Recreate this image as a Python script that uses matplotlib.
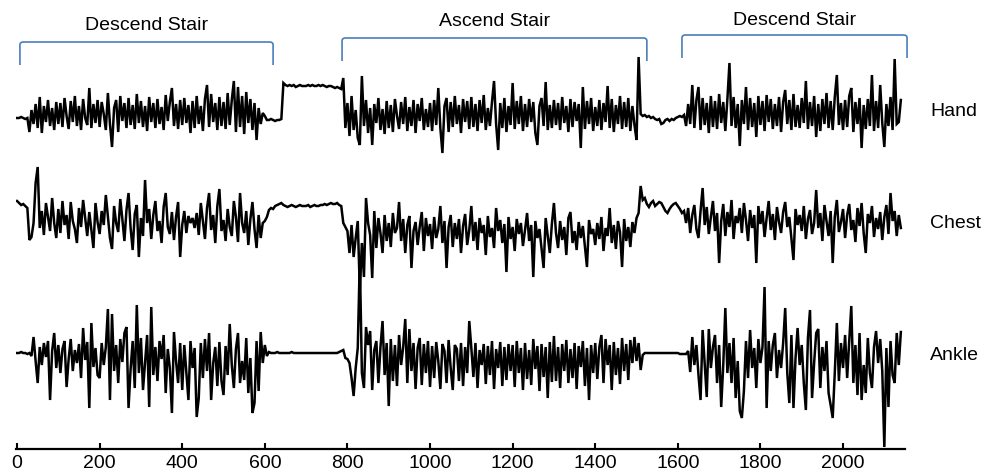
import numpy as np
import matplotlib
matplotlib.use('Agg')
from matplotlib import pyplot as plt
from matplotlib.path import Path
from matplotlib.patches import PathPatch

plt.rcParams['font.family'] = ['Liberation Sans', 'DejaVu Sans']

# one sample every 5 time units, values = deflection of each trace
step = 5

hand = [
    0, 0, 1, 0, -1, 0, -14, 8, -6, 14, -10, 21, -15, 12, -4, 18, -8, 10, -12, 16,
    -6, 15, -9, 20, 2, -11, 17, -4, 22, -8, 12, -12, 19, 0, -7, 30, -10, 14, -5, 18,
    -9, 16, 4, -12, 25, -6, -29, 10, 18, -14, 22, -3, 15, -10, 20, -7, 13, -11, 24, -5,
    17, -9, 12, -13, 21, -4, 15, -10, 19, -6, 11, -12, 23, -3, 16, 30, -8, 14, -11, 18,
    -7, 20, -5, 13, -15, 17, -10, 22, -6, 12, -13, 19, 33, -9, 24, -4, 15, -12, 21, -8,
    16, -11, 25, -7, 18, 37, -14, 31, -9, 22, -16, 26, -5, 19, -12, 15, -22, 10, -6, 5,
    2, -2, -2, -1, -2, -3, -2, -2, -1, 35, 33, 32, 33, 32, 33, 31, 32, 33, 32, 32,
    32, 33, 32, 33, 32, 32, 33, 32, 33, 32, 31, 32, 32, 31, 30, 31, 30, 29, 40, -10,
    15, -18, 22, -12, 8, -20, -27, 42, -8, 18, -15, 10, -27, 14, -5, 20, -12, 9, -16, 17,
    -10, 13, -14, 19, 2, -11, 16, -6, 21, -13, 11, -8, 18, -15, 14, -3, 20, -12, 9, -9,
    15, -13, 18, -7, 30, -10, -35, 12, 20, -14, 16, -9, 22, -6, 13, -15, 19, -4, 17, -11,
    21, -9, 14, -13, 18, -5, 23, -12, 10, -8, 16, 37, -6, -32, 15, -10, 20, -14, 12, -7,
    35, -11, 17, -6, 22, -13, 14, -9, 19, -4, 16, -15, -27, 12, 20, -8, 36, -12, 13, -10,
    18, -7, 15, -12, 21, -5, 12, -14, 19, -9, 16, -3, 14, -30, 31, -11, 17, -6, 20, -13,
    11, -8, 18, -12, 15, -4, 32, -10, 19, -14, 13, -6, 22, -11, 16, -9, 20, -13, 12, -7,
    -22, 61, 4, 2, 3, 1, 2, 0, 1, -1, -2, -1, -6, -5, -2, -1, -3, -1, -2, 0,
    1, 2, 1, 3, -8, 14, -6, 33, -10, 18, 31, -12, 20, -7, 15, -15, 22, -9, 17, -11,
    24, -5, 16, -13, 19, 55, -8, 21, -10, 14, -28, 18, -6, 31, -12, 20, -9, 15, -19, 22,
    -7, 17, -13, 23, -4, 19, -11, 14, -8, 21, -14, 16, 28, -6, 18, -12, 24, -9, 13, -10,
    20, -5, 37, -11, 16, -8, 22, -19, 14, -13, 19, -6, 25, -10, 17, -12, 21, 43, -7, 15,
    -12, 18, -9, 22, 30, -14, 16, -6, 20, -30, 13, -11, 19, -8, 43, -13, 17, -10, 33, -5,
    -29, 14, -8, 21, -12, 59, -6, -4, 18,
]

chest = [
    2, 0, -2, -1, -3, -5, -37, -34, -20, 20, 36, -25, -8, -32, 0, -14, -28, 5, -20, -35,
    -6, -30, 2, -22, -12, -36, 1, -18, -26, -40, -5, -24, 3, -15, -33, -9, -27, -45, 0, -19,
    -31, -8, -22, 8, -14, -35, -46, -3, -20, -29, 4, -16, -38, -7, 10, -25, -47, -11, -2, -54,
    -15, -33, 23, -20, -6, -36, -12, 2, -28, -18, -40, -4, 10, -24, -31, -9, -37, -14, 1, -54,
    -22, -8, -30, -13, -20, -15, -25, -10, -32, 0, -18, -36, -5, 10, -27, -12, -40, -3, 14, -28,
    -17, -38, -6, -24, -33, 2, -14, -39, 10, -20, -30, -8, -42, -16, 1, -26, -45, -12, -35, -20,
    -18, -14, -7, -5, -6, -3, -2, -1, 0, -2, -3, -4, -3, -2, -3, -4, -3, -2, -3, -3,
    -3, -2, -4, -3, -2, -3, -3, -2, -2, -1, -2, -1, 0, -1, -1, 0, -2, -3, -20, -24,
    -28, -50, -22, -54, -35, -18, -87, -40, -74, 5, -20, -32, -75, -8, -45, -15, -30, -50, -12, -38,
    -20, -44, -10, -30, -25, 1, -38, -16, -50, -22, -13, -65, -28, -19, -42, -24, -9, -48, -15, -33,
    -21, -46, -14, -35, -26, -3, -40, -18, -65, -24, -12, -44, -20, -36, -16, -50, -23, -11, -42, -27,
    -3, -38, -19, -47, -15, -30, -22, -52, -13, -34, -25, -45, -5, -28, -17, -40, -21, -69, -14, -36,
    -24, -48, -16, -31, -20, -43, -27, -10, -38, -22, -74, -18, -35, -26, -46, -65, -15, -33, -50, -21,
    0, -30, -45, -18, -37, -24, -52, -15, -9, -40, -28, -47, -19, -35, -23, -44, -64, -17, -31, -26,
    -42, -20, -36, -14, -48, -25, -33, -5, -40, -22, -46, -18, -29, -64, -16, -38, -24, -44, -19, -30,
    -15, -10, 17, 3, 5, -1, -4, 0, 2, -3, -1, 1, 0, -4, -8, -10, -6, -3, -1, 0,
    -3, -6, -10, -8, -20, -5, -30, -12, -2, -26, -35, -8, 15, -22, -4, -31, -14, 2, -28, -10,
    -60, -18, -1, -33, -9, -24, 3, -36, -13, -20, -5, -30, 0, -17, -38, -7, -25, -12, -60, -3,
    -21, -8, -34, -15, 2, -27, -11, -37, -4, -19, -30, -9, 1, -24, -14, -35, -57, -6, -22, -12,
    -28, -3, -36, -16, -7, -31, -20, 13, -25, -10, -38, -2, -18, -33, -8, -60, -14, 3, -29, -19,
    -6, -35, -12, -1, -27, -17, -39, -5, -23, 0, -30, -50, -11, -20, -3, -34, -15, -26, -9, -37,
    -14, -2, -31, 10, -18, -8, -33, -12, -25,
]

ankle = [
    0, 0, 1, 0, 0, -1, 0, -3, 16, -8, -30, 6, -12, 10, -4, 12, -47, 2, 20, -15,
    8, -20, 4, 12, -34, -6, 14, -18, 3, -10, 9, -25, 25, -7, 11, -55, 30, -14, 5, -22,
    -25, 10, -12, 6, 44, -47, 39, -18, 8, -30, 14, -9, 20, 26, -55, -16, 12, -35, 48, -20,
    15, -37, -10, 18, -54, 46, -22, 6, -28, 12, -6, 18, -40, 4, -15, -60, 21, -8, -30, 10,
    -37, 8, -20, -47, 12, -15, 5, -64, -45, 10, -25, 14, -18, 20, -47, -10, 6, -33, 11, -28,
    -42, 7, -22, 29, -12, -35, 4, 20, -30, -8, -27, 15, -40, -5, -60, -50, 12, -38, 21, -10,
    8, -3, 1, 0, 0, 0, 1, 0, 0, 0, 0, 0, 0, 1, 0, 0, 0, 0, 0, 0,
    0, 0, 0, 0, 0, 0, 0, 0, 0, 0, 0, 0, 0, 0, 0, 0, 1, 2, 3, -5,
    -6, -10, -25, -43, -15, 5, 95, -20, -35, 26, 8, 22, -37, 3, 12, -30, 6, 32, -22, 10,
    -53, 14, -28, 8, -33, 18, -12, 6, 34, -30, 24, -18, 10, -36, 5, 15, -32, 9, -20, 12,
    -34, 7, -25, 11, -8, -36, 9, 2, -30, 13, -15, -37, 8, 4, -28, 10, -33, 6, -20, 32,
    5, -24, 10, -35, 3, -12, 9, -31, 7, -22, 12, -36, 4, -15, 11, -33, 6, -27, 9, -18,
    8, -34, 12, -20, 5, -37, 10, -26, 3, -32, 14, -16, 7, -38, 9, -24, 6, -45, 11, -29,
    17, -28, 6, -35, 9, -18, 13, -30, 4, -25, 10, -36, 7, -14, 12, -33, 5, -47, 8, -20,
    10, -26, 6, 18, -30, 14, -12, 8, -37, 11, -22, 5, -31, 15, -18, 9, -27, 13, -10, 16,
    -8, 10, -17, -2, 0, 0, 0, 0, 0, 0, 0, 0, 0, 0, 0, 0, 0, 0, 0, 0,
    0, -1, -1, -1, -1, 2, -19, 16, -12, 8, -22, -47, 23, -10, -44, 24, -15, 6, 18, -30,
    8, -54, -12, 45, -20, 10, -30, 15, -45, -8, -58, -65, -38, 12, -25, 23, -15, 5, -35, 14,
    -10, 6, 66, -55, 12, -18, 8, 20, -25, 3, -15, 10, 45, -20, -50, 18, -55, -5, 25, -12,
    8, -30, -57, 15, 43, -45, -10, 20, 24, -35, 6, -18, 12, -40, -52, -65, -20, 30, -28, 10,
    -15, 18, -25, 12, 47, -30, 8, -42, 20, -47, -12, -40, 15, -20, -35, 6, 22, -10, 14, -18,
    -94, 5, -54, 12, -22, -30, 20, -12, 21,
]

sensors = ['Hand', 'Chest', 'Ankle']
activities = ['Descend Stair', 'Ascend Stair', 'Descend Stair']
activity_spans = [(7, 620), (787, 1525), (1610, 2155)]
xtick_values = list(range(0, 2001, 200))

# layout (vertical position of each trace and label, bracket heights)
offsets = [331, 246, 96]
label_y = [333, 221, 89]
bracket_top = [407, 411, 414]
bracket_depth = 23
bracket_text_y = [419, 423, 424]
bracket_color = '#4a7ebb'

fig = plt.figure(figsize=(9.87, 4.72), dpi=100)
ax = fig.add_axes([0.016, 0.0487, 0.9009, 0.9513])

for name, vals, off, ly in zip(sensors, [hand, chest, ankle], offsets, label_y):
    vals = np.array(vals)
    x = np.arange(len(vals)) * step
    ax.plot(x, vals + off, color='black', lw=1.8, solid_joinstyle='miter')
    ax.text(2211, ly, name, fontsize=14, ha='left', va='baseline')

rx, ry = 8, 3
for act, (x0, x1), yt, ty in zip(activities, activity_spans, bracket_top, bracket_text_y):
    verts = [(x0, yt - bracket_depth), (x0, yt - ry), (x0, yt), (x0 + rx, yt),
             (x1 - rx, yt), (x1, yt), (x1, yt - ry), (x1, yt - bracket_depth)]
    codes = [Path.MOVETO, Path.LINETO, Path.CURVE3, Path.CURVE3,
             Path.LINETO, Path.CURVE3, Path.CURVE3, Path.LINETO]
    ax.add_patch(PathPatch(Path(verts, codes), fill=False, edgecolor=bracket_color,
                           lw=1.2, clip_on=False))
    ax.text((x0 + x1) / 2, ty, act, fontsize=14, ha='center', va='baseline')

ax.set_xlim(-3, 2150)
ax.set_ylim(0, 449)
ax.set_xticks(xtick_values)
ax.set_yticks([])
ax.tick_params(axis='x', direction='in', length=4, width=1.5, labelsize=14, pad=4)
for s in ['left', 'right', 'top']:
    ax.spines[s].set_visible(False)
ax.spines['bottom'].set_linewidth(1.6)

fig.savefig('out.png', dpi=100)
